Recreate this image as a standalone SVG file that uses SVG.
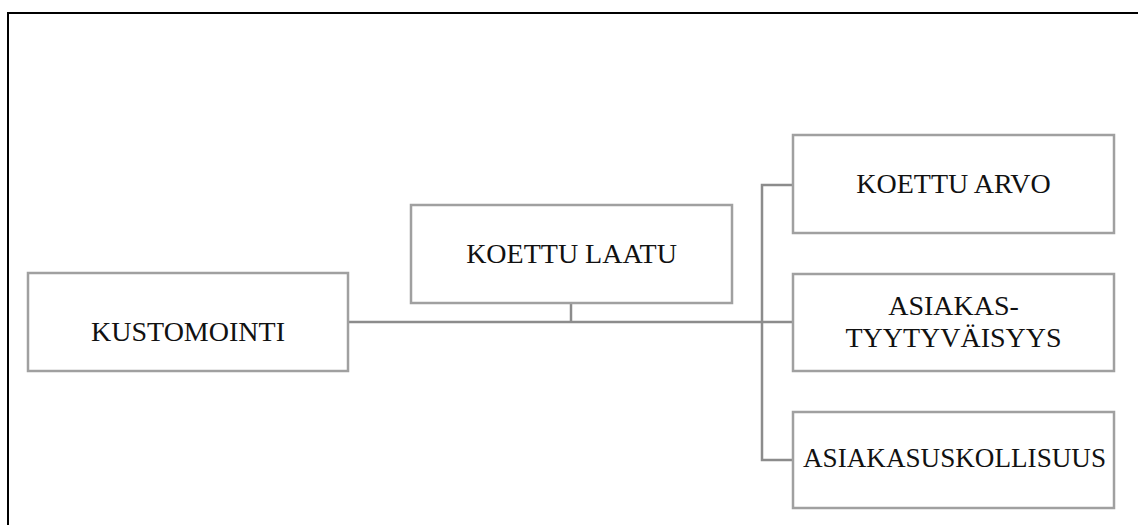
<svg xmlns="http://www.w3.org/2000/svg" width="1138" height="525" viewBox="0 0 1138 525">
<style>
.box{fill:#ffffff;stroke:#a0a0a0;stroke-width:2.5}
.lbl{font-family:"Liberation Serif","Times New Roman",serif;font-size:28px;fill:#111111;text-anchor:middle}
.con{fill:none;stroke:#8c8c8c;stroke-width:2.5}
</style>
<rect x="0" y="0" width="1138" height="525" fill="#ffffff"/>
<path d="M8 525 V13 H1138" fill="none" stroke="#000000" stroke-width="2"/>
<g id="connectors">
<path class="con" d="M348 322 H793"/>
<path class="con" d="M571 303 V322"/>
<path class="con" d="M793 185 H762 V460 H793"/>
</g>
<g id="kustomointi">
<rect class="box" x="28" y="273" width="320" height="98"/>
<text class="lbl" x="188" y="341">KUSTOMOINTI</text>
</g>
<g id="koettu-laatu">
<rect class="box" x="411" y="205" width="321" height="98"/>
<text class="lbl" x="571.5" y="263">KOETTU LAATU</text>
</g>
<g id="koettu-arvo">
<rect class="box" x="793" y="135" width="321" height="98"/>
<text class="lbl" x="953.5" y="193">KOETTU ARVO</text>
</g>
<g id="asiakastyytyvaisyys">
<rect class="box" x="793" y="274" width="321" height="97"/>
<text class="lbl" x="953.5" y="315">ASIAKAS-</text>
<text class="lbl" x="953.5" y="347">TYYTYVÄISYYS</text>
</g>
<g id="asiakasuskollisuus">
<rect class="box" x="793" y="412" width="321" height="96"/>
<text class="lbl" x="954.5" y="467" textLength="303" lengthAdjust="spacingAndGlyphs">ASIAKASUSKOLLISUUS</text>
</g>
</svg>
